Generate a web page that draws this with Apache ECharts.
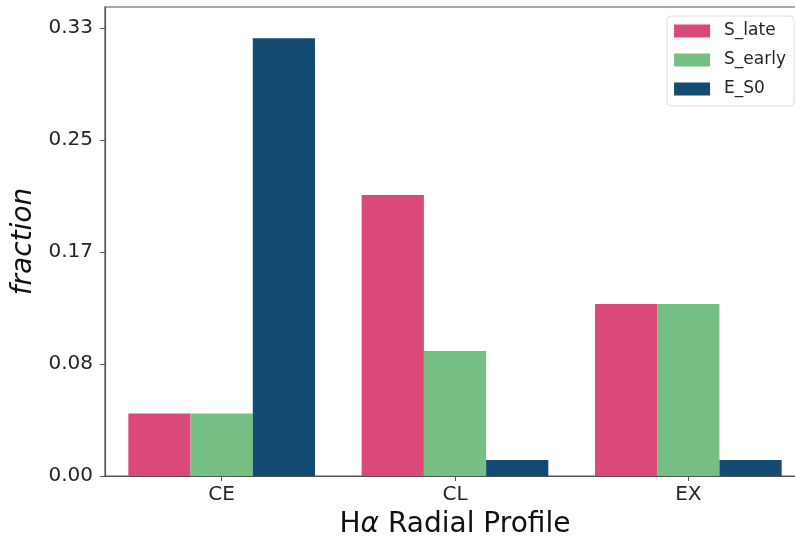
<!DOCTYPE html>
<html>
<head>
<meta charset="utf-8">
<script src="https://cdn.jsdelivr.net/npm/echarts@6/dist/echarts.min.js"></script>
<style>html,body{margin:0;padding:0;background:#fff;overflow:hidden}#c{width:825px;height:540px}</style>
</head>
<body>
<div id="c"></div>
<script>
var categories = ['CE', 'CL', 'EX'];
var seriesNames = ['S_late', 'S_early', 'E_S0'];
var sLate = [0.046, 0.207, 0.1267];
var sEarly = [0.046, 0.092, 0.1267];
var eS0 = [0.3224, 0.0118, 0.0118];
var yTicks = [0, 0.0825, 0.165, 0.2475, 0.33];
var colors = ['#db487a', '#76bf84', '#134b72'];

var chart = echarts.init(document.getElementById('c'), null, {renderer: 'canvas'});
var font = 'DejaVu Sans';
var axisColor = '#555555';
var textColor = '#262626';
var data = [sLate, sEarly, eS0];
chart.setOption({
  animation: false,
  textStyle: {fontFamily: font},
  grid: {left: 105, right: 20, top: 7, bottom: 64, outerBoundsMode: 'none', containLabel: false,
    show: true, borderColor: axisColor, borderWidth: 1.2, backgroundColor: 'transparent'},
  legend: {
    orient: 'vertical', right: 31, top: 16,
    data: seriesNames,
    icon: 'rect', itemWidth: 36, itemHeight: 13, itemGap: 11,
    padding: [6, 8, 8, 7],
    borderColor: '#dddddd', borderWidth: 1, borderRadius: 4,
    textStyle: {fontFamily: font, fontSize: 17, color: textColor, lineHeight: 18, padding: [0, 0, 0, 9]}
  },
  xAxis: {
    type: 'category', data: categories,
    axisLine: {show: true, lineStyle: {color: axisColor, width: 1.2}},
    axisTick: {show: true, alignWithLabel: true, length: 5, lineStyle: {color: axisColor}},
    axisLabel: {fontFamily: font, fontSize: 20, color: textColor, margin: 9},
    name: 'H{a|α} Radial Profile', nameLocation: 'middle', nameGap: 35,
    nameTextStyle: {fontFamily: font, fontSize: 28, color: '#111', rich: {a: {fontFamily: font, fontSize: 28, fontStyle: 'italic', color: '#111'}}}
  },
  yAxis: {
    type: 'value', min: 0, max: 0.3455,
    splitLine: {show: false},
    axisLine: {show: true, lineStyle: {color: axisColor, width: 1.2}},
    axisTick: {show: true, length: 5, lineStyle: {color: axisColor}, customValues: yTicks},
    axisLabel: {fontFamily: font, fontSize: 20, color: textColor, margin: 12, customValues: yTicks,
      formatter: function (v) { return v.toFixed(2); }},
    name: 'fraction', nameLocation: 'middle', nameGap: 63,
    nameTextStyle: {fontFamily: font, fontSize: 28, fontStyle: 'italic', color: '#111'}
  },
  series: seriesNames.map(function (n, i) {
    return {
      name: n, type: 'bar', data: data[i],
      barGap: '0%', barCategoryGap: '20%',
      itemStyle: {color: colors[i]}
    };
  })
});
</script>
</body>
</html>
